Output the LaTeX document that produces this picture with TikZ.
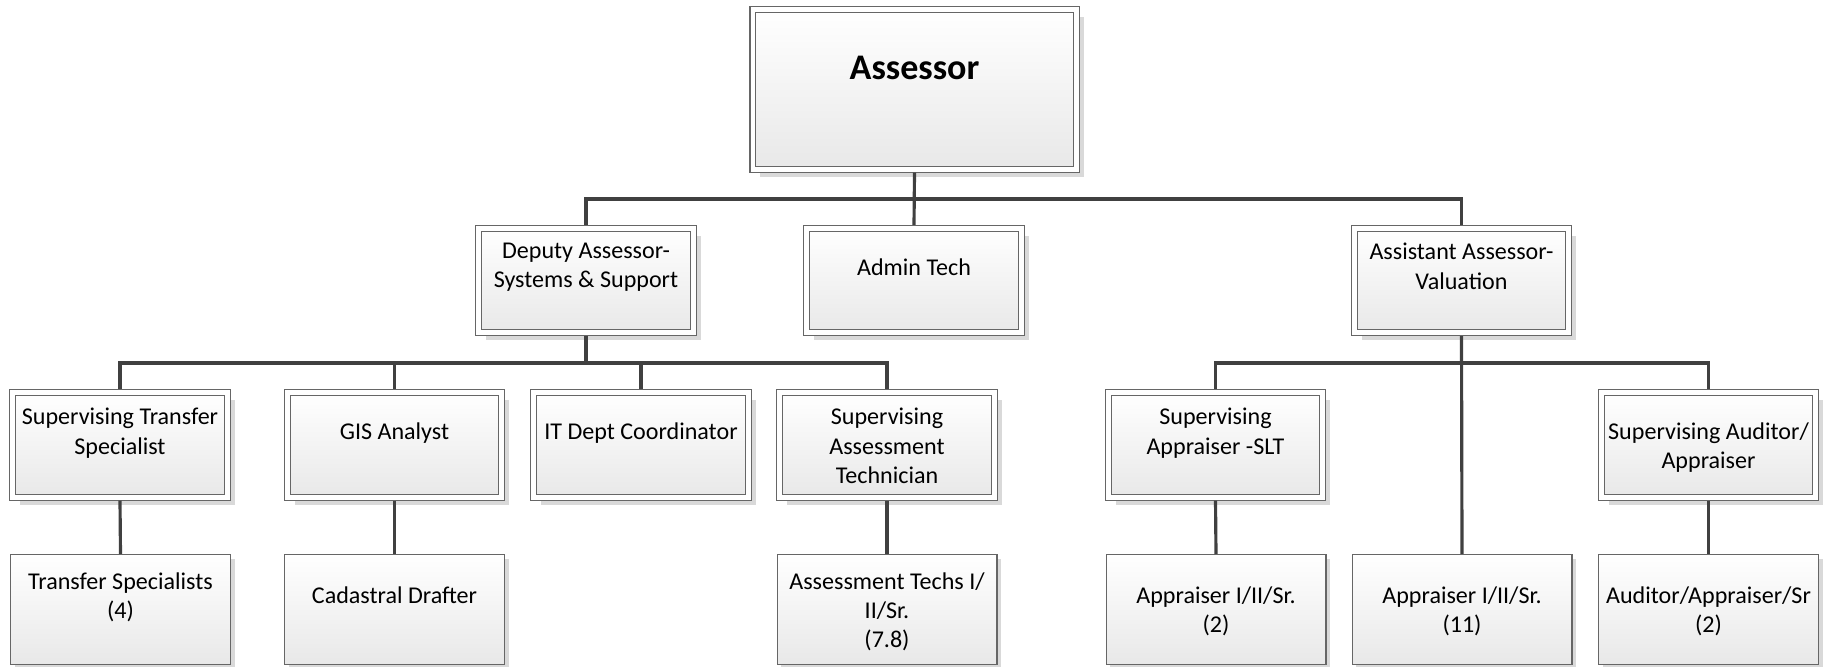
\documentclass[tikz,border=0pt]{standalone}
\usepackage{fontspec}
\setmainfont{Carlito}
\usetikzlibrary{shadows}
\tikzset
{
  frame/.style={draw=black!60,line width=0.6pt,top color=white,bottom color=black!9},
  dbox/.style={frame,double=white,double distance=2.6pt,outer sep=1.9pt,inner sep=0pt,
    minimum width=4.29cm,minimum height=2.09cm,
    drop shadow={shadow xshift=4.3pt,shadow yshift=-4.3pt,fill=black!15,opacity=1}},
  sbox/.style={frame,inner sep=0pt,minimum width=4.4cm,minimum height=2.2cm,
    drop shadow={shadow xshift=2.5pt,shadow yshift=-2.5pt,fill=black!15,opacity=1}},
  txt/.style={anchor=north,align=center,inner sep=0pt,
    font=\fontsize{13.7}{16.6}\selectfont,execute at begin node=\strut},
  link/.style={draw=black!75,line width=1.8pt}
}

\begin{document}
\begin{tikzpicture}[x=0.02cm,y=-0.02cm]
  \useasboundingbox (0,0) rectangle (1825,666);
  % bus lines
  \coordinate (bus1) at (0,199);
  \coordinate (bus2) at (0,363);
  % top
  \node[dbox,minimum width=6.47cm,minimum height=3.19cm] (assessor) at (914.5,89.5) {};
  \node[anchor=base,inner sep=0pt,font=\fontsize{20.5}{24}\selectfont\bfseries] (assessor-t) at (914.5,79) {Assessor};
  % level 1
  \node[dbox] (deputy)    at (586,280.5)    {};
  \node[dbox] (admin)     at (914,280.5)    {};
  \node[dbox] (assistant) at (1461.5,280.5) {};
  \node[txt] (deputy-t)    at (586,243)    {Deputy Assessor-\\Systems \& Support};
  \node[txt] (admin-t)     at (914,254.5)  {Admin Tech};
  \node[txt] (assistant-t) at (1461.5,243) {Assistant Assessor-\\Valuation};
  % level 2
  \node[dbox] (suptransfer) at (120,445)    {};
  \node[dbox] (gis)         at (394.5,445)  {};
  \node[dbox] (itdept)      at (641,445)    {};
  \node[dbox] (supassess)   at (887,445)    {};
  \node[dbox] (supappr)     at (1215.5,445) {};
  \node[dbox] (supaudit)    at (1708.5,445) {};
  \node[txt] (suptransfer-t) at (120,408)    {Supervising Transfer\\Specialist};
  \node[txt] (gis-t)         at (394.5,418.5) {GIS Analyst};
  \node[txt] (itdept-t)      at (641,418.5)  {IT Dept Coordinator};
  \node[txt] (supassess-t)   at (887,408)    {Supervising\\Assessment\\Technician};
  \node[txt] (supappr-t)     at (1215.5,408) {Supervising\\Appraiser -SLT};
  \node[txt] (supaudit-t)    at (1708.5,422) {Supervising Auditor/\\Appraiser};
  % level 3
  \node[sbox] (transfer)    at (120.5,609.5)  {};
  \node[sbox] (cadastral)   at (394.5,609.5)  {};
  \node[sbox] (assesstechs) at (887,609.5)    {};
  \node[sbox] (appr2)       at (1216,609.5)   {};
  \node[sbox] (appr11)      at (1462,609.5)   {};
  \node[sbox] (auditor)     at (1708.5,609.5) {};
  \node[txt] (transfer-t)    at (120.5,572)  {Transfer Specialists\\(4)};
  \node[txt] (cadastral-t)   at (394.5,582.5) {Cadastral Drafter};
  \node[txt] (assesstechs-t) at (887,572)    {Assessment Techs I/\\II/Sr.\\(7.8)};
  \node[txt] (appr2-t)       at (1216,586)   {Appraiser I/II/Sr.\\(2)};
  \node[txt] (appr11-t)      at (1462,586)   {Appraiser I/II/Sr.\\(11)};
  \node[txt] (auditor-t)     at (1708.5,586) {Auditor/Appraiser/Sr\\(2)};
  % links
  \draw[link] (assessor.south) -- (assessor.south |- bus1) -| (deputy.north);
  \draw[link] (assessor.south) -- (admin.north);
  \draw[link] (assessor.south) -- (assessor.south |- bus1) -| (assistant.north);
  \draw[link] (deputy.south) -- (deputy.south |- bus2) -| (suptransfer.north);
  \draw[link] (deputy.south) -- (deputy.south |- bus2) -| (gis.north);
  \draw[link] (deputy.south) -- (deputy.south |- bus2) -| (itdept.north);
  \draw[link] (deputy.south) -- (deputy.south |- bus2) -| (supassess.north);
  \draw[link] (assistant.south) -- (assistant.south |- bus2) -| (supappr.north);
  \draw[link] (assistant.south) -- (appr11.north);
  \draw[link] (assistant.south) -- (assistant.south |- bus2) -| (supaudit.north);
  \draw[link] (suptransfer.south) -- (transfer.north);
  \draw[link] (gis.south) -- (cadastral.north);
  \draw[link] (supassess.south) -- (assesstechs.north);
  \draw[link] (supappr.south) -- (appr2.north);
  \draw[link] (supaudit.south) -- (auditor.north);
\end{tikzpicture}
\end{document}
